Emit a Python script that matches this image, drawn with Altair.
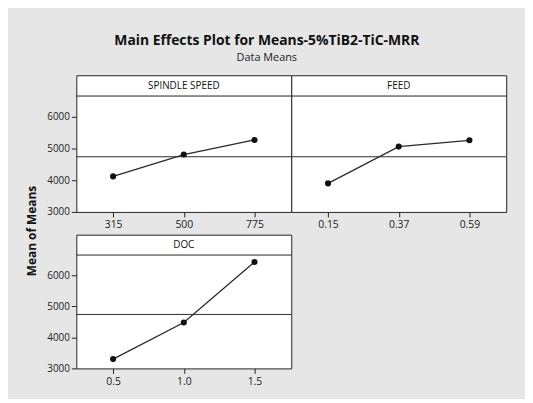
import altair as alt
import pandas as pd

# ---- data ----
spindle_levels = ["315", "500", "775"]
spindle_means = [4120, 4810, 5270]
feed_levels = ["0.15", "0.37", "0.59"]
feed_means = [3900, 5060, 5260]
doc_levels = ["0.5", "1.0", "1.5"]
doc_means = [3300, 4480, 6430]
grand_mean = 4740
y_ticks = [3000, 4000, 5000, 6000]

# scale layout (data units): plot area 3000..6656, header strip above it
Y_MIN, STRIP_BOTTOM, Y_MAX = 3000, 6656, 7312
FONT = "Open Sans"
PANEL_W = 217


def panel(name, levels, means, show_y, height):
    df = pd.DataFrame({"level": levels, "mean": means})
    yscale = alt.Scale(domain=[Y_MIN, Y_MAX], nice=False, zero=False)
    if show_y:
        yaxis = alt.Axis(values=y_ticks, format="d", title=None, grid=False, domain=False,
                         tickColor="#222", tickSize=5, labelFontSize=10,
                         labelColor="#222", labelFont=FONT, labelPadding=2)
    else:
        yaxis = None
    base = alt.Chart(df).encode(
        x=alt.X("level:O", sort=levels,
                scale=alt.Scale(type="point", padding=0.52),
                axis=alt.Axis(title=None, labelAngle=0, grid=False, domain=False,
                              tickColor="#222", tickSize=5, labelFontSize=10.5,
                              labelColor="#222", labelFont=FONT, labelPadding=3)),
        y=alt.Y("mean:Q", scale=yscale, axis=yaxis),
    )
    line = base.mark_line(color="#2a2a2a", strokeWidth=1.3)
    pts = base.mark_circle(size=38, color="#111", opacity=1)
    gm = alt.Chart(pd.DataFrame({"m": [grand_mean]})).mark_rule(
        color="#2a2a2a", strokeWidth=1).encode(y=alt.Y("m:Q", scale=yscale, axis=yaxis))
    strip = alt.Chart(pd.DataFrame({"s": [STRIP_BOTTOM]})).mark_rule(
        color="#222", strokeWidth=1).encode(y=alt.Y("s:Q", scale=yscale, axis=yaxis))
    label = alt.Chart(pd.DataFrame({"t": [name], "yy": [(STRIP_BOTTOM + Y_MAX) / 2]})).mark_text(
        fontSize=10, font=FONT, color="#111", baseline="middle", align="center").encode(
        text="t:N", x=alt.value(PANEL_W / 2),
        y=alt.Y("yy:Q", scale=yscale, axis=yaxis))
    return alt.layer(gm, strip, line, pts, label).properties(width=PANEL_W, height=height)


sp = panel("SPINDLE SPEED", spindle_levels, spindle_means, True, 138)
fd = panel("FEED", feed_levels, feed_means, False, 138)
dc = panel("DOC", doc_levels, doc_means, True, 135)

top = alt.hconcat(sp, fd, spacing=0, bounds="flush")
inner = alt.vconcat(top, dc, spacing=3).properties(
    title=alt.TitleParams("Mean of Means", orient="left", anchor="middle",
                          fontSize=12, fontWeight="bold", font=FONT, color="#111", offset=7))

chart = alt.vconcat(inner).properties(
    title=alt.TitleParams("Main Effects Plot for Means-5%TiB2-TiC-MRR",
                          subtitle="Data Means", anchor="middle",
                          fontSize=14, fontWeight="bold", font=FONT, color="#111",
                          subtitleFontSize=11, subtitleFont=FONT, subtitleColor="#222",
                          subtitlePadding=4, offset=12),
    background="#e6e6e6",
    padding={"left": 18, "top": 24, "right": 18, "bottom": 10},
).configure_view(stroke="#222", strokeWidth=1, fill="white")

chart.save("out.html", embed_options={"renderer": "svg", "actions": False})
